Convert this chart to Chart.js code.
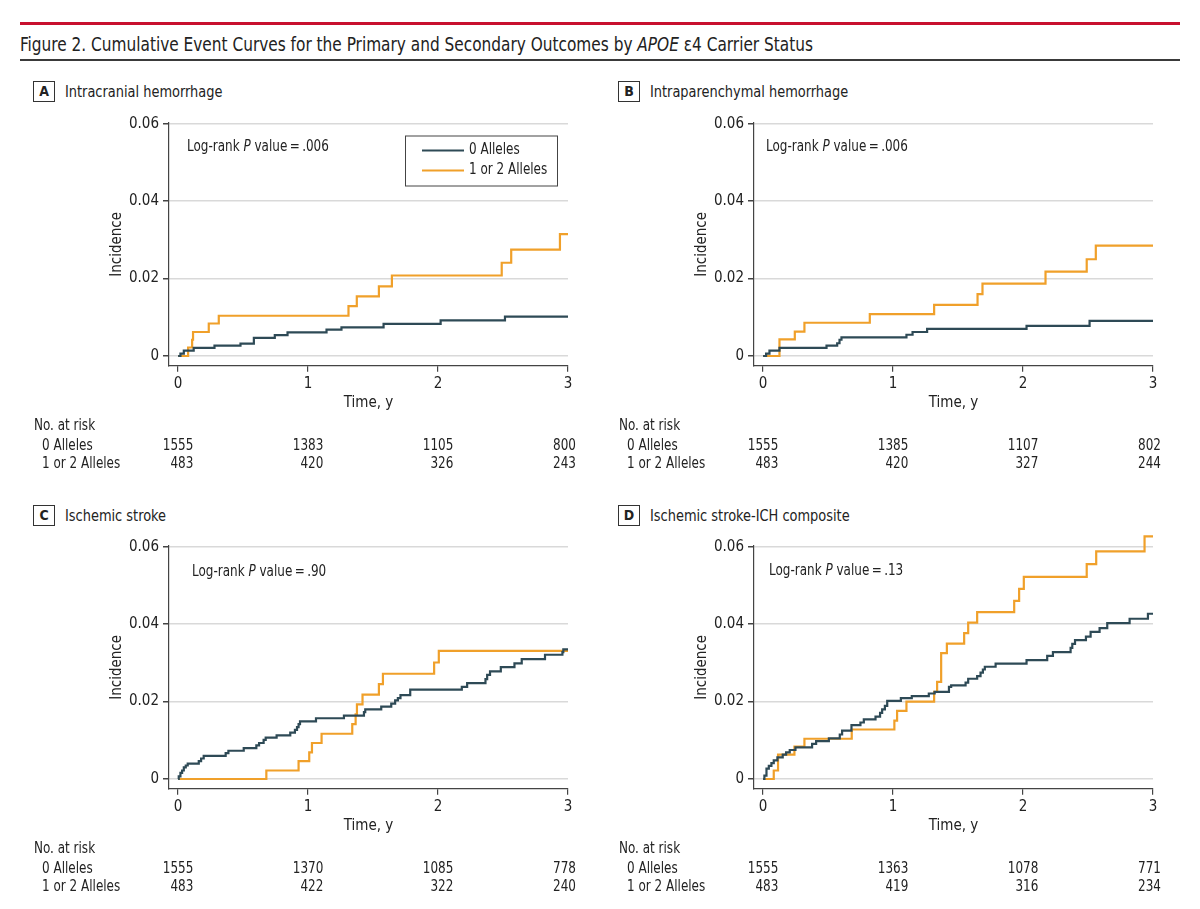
<!DOCTYPE html>
<html>
<head>
<meta charset="utf-8">
<script src="https://cdn.jsdelivr.net/npm/chart.js@4.4.1/dist/chart.umd.min.js"></script>
<style>
  body { margin: 0; background: #fff; }
  #page { position: relative; width: 1200px; height: 909px; overflow: hidden;
          font-family: 'Liberation Sans Narrow', 'DejaVu Sans Condensed', sans-serif; color: #222; }
  .redline { position: absolute; left: 20px; width: 1160px; top: 22px; height: 3px; background: #c8102e; }
  .blackline { position: absolute; left: 20px; width: 1160px; top: 59px; height: 2px; background: #3a3a3a; }
  .figtitle { position: absolute; left: 20px; top: 33px; font-size: 19.5px; line-height: 24px; white-space: nowrap;
              transform: scaleX(0.875); transform-origin: left center; }
  .plabel { position: absolute; width: 20px; height: 19px; border: 1px solid #333; font-weight: bold;
            font-size: 14px; line-height: 19px; text-align: center; }
  .ptitle { position: absolute; font-size: 16px; line-height: 20px; white-space: nowrap;
            transform: scaleX(0.9); transform-origin: left center; }
  canvas { position: absolute; }
</style>
</head>
<body>
<div id="page">
  <div class="redline"></div>
  <div class="figtitle">Figure 2. Cumulative Event Curves for the Primary and Secondary Outcomes by <i>APOE</i> ε4 Carrier Status</div>
  <div class="blackline"></div>
</div>
<script>
// axis ticks and series names
const timeTicks = [0, 1, 2, 3];
const incTicks = [0, 0.02, 0.04, 0.06];
const seriesNames = ['0 Alleles', '1 or 2 Alleles'];
const seriesColors = ['#2e4a56', '#f0a02a'];

// A: intracranial hemorrhage
const aTime0 = [0, 0.018, 0.044, 0.12, 0.28, 0.48, 0.583, 0.744, 0.842, 1.142, 1.257, 1.581, 2.02, 2.515, 3];
const aInc0 = [0, 0.0006, 0.0014, 0.0021, 0.0027, 0.0032, 0.0047, 0.0054, 0.0061, 0.0068, 0.0074, 0.0083, 0.0092, 0.0102, 0.0102];
const aTime1 = [0, 0.077, 0.108, 0.115, 0.236, 0.313, 1.311, 1.375, 1.545, 1.645, 2.49, 2.563, 2.938, 3];
const aInc1 = [0, 0.0022, 0.0042, 0.0062, 0.0084, 0.0104, 0.0129, 0.0154, 0.018, 0.0208, 0.0241, 0.0275, 0.0315, 0.0315];
const aRisk0 = [1555, 1383, 1105, 800];
const aRisk1 = [483, 420, 326, 243];

// B: intraparenchymal hemorrhage
const bTime0 = [0, 0.023, 0.049, 0.126, 0.488, 0.57, 0.588, 0.603, 1.103, 1.15, 1.262, 2.027, 2.512, 3];
const bInc0 = [0, 0.0006, 0.0014, 0.0021, 0.0027, 0.0033, 0.0042, 0.0048, 0.0055, 0.0062, 0.007, 0.0078, 0.0091, 0.0091];
const bTime1 = [0, 0.126, 0.244, 0.318, 0.821, 1.316, 1.65, 1.688, 2.173, 2.49, 2.56, 3];
const bInc1 = [0, 0.0043, 0.0063, 0.0086, 0.0108, 0.0132, 0.016, 0.0187, 0.0218, 0.025, 0.0285, 0.0285];
const bRisk0 = [1555, 1385, 1107, 802];
const bRisk1 = [483, 420, 327, 244];

// C: ischemic stroke
const cTime0 = [0, 0.005, 0.018, 0.031, 0.044, 0.059, 0.074, 0.159, 0.177, 0.197, 0.366, 0.387, 0.505, 0.602, 0.623,
  0.658, 0.674, 0.758, 0.863, 0.899, 0.915, 0.927, 0.938, 1.061, 1.276, 1.43, 1.44, 1.563, 1.64, 1.67, 1.691, 1.711,
  1.786, 2.183, 2.224, 2.365, 2.378, 2.4, 2.483, 2.588, 2.644, 2.823, 2.957, 2.964, 3];
const cInc0 = [0, 0.0007, 0.0016, 0.0022, 0.003, 0.0035, 0.004, 0.0046, 0.0053, 0.006, 0.0067, 0.0073, 0.008, 0.0087, 0.0093,
  0.0101, 0.0107, 0.0113, 0.012, 0.0127, 0.0134, 0.0142, 0.0149, 0.0157, 0.0164, 0.0173, 0.018, 0.0187, 0.0195, 0.0203, 0.0209, 0.0217,
  0.0231, 0.0238, 0.0248, 0.0258, 0.0269, 0.0278, 0.0289, 0.0299, 0.031, 0.0321, 0.0328, 0.0335, 0.0335];
const cTime1 = [0, 0.679, 0.927, 1.009, 1.03, 1.104, 1.34, 1.366, 1.376, 1.419, 1.545, 1.576, 1.97, 2.006, 3];
const cInc1 = [0, 0.0022, 0.0046, 0.0069, 0.0093, 0.0117, 0.0142, 0.0167, 0.0193, 0.0218, 0.0245, 0.0272, 0.0301, 0.0331, 0.0331];
const cRisk0 = [1555, 1370, 1085, 778];
const cRisk1 = [483, 422, 322, 240];

// D: ischemic stroke-ICH composite
const dTime0 = [0, 0.01, 0.026, 0.044, 0.064, 0.082, 0.11, 0.151, 0.177, 0.205, 0.249, 0.377, 0.408, 0.506, 0.59, 0.608,
  0.68, 0.749, 0.775, 0.865, 0.9, 0.916, 0.937, 0.955, 1.06, 1.144, 1.275, 1.32, 1.43, 1.447, 1.558, 1.578, 1.647, 1.673,
  1.691, 1.706, 1.789, 2.027, 2.186, 2.23, 2.366, 2.379, 2.4, 2.484, 2.52, 2.589, 2.648, 2.82, 2.961, 3];
const dInc0 = [0, 0.0009, 0.0027, 0.0034, 0.0041, 0.0048, 0.0056, 0.0063, 0.0069, 0.0075, 0.0082, 0.0091, 0.0098, 0.0105, 0.0115, 0.0125,
  0.0139, 0.0146, 0.0154, 0.0161, 0.0171, 0.018, 0.0189, 0.0202, 0.0209, 0.0214, 0.0221, 0.0225, 0.0238, 0.0242, 0.0249, 0.0259, 0.0266, 0.0275,
  0.0283, 0.029, 0.0298, 0.0307, 0.0318, 0.0328, 0.0339, 0.0349, 0.0359, 0.0368, 0.038, 0.039, 0.0403, 0.0414, 0.0427, 0.0427];
const dTime1 = [0, 0.082, 0.115, 0.241, 0.318, 0.682, 1.01, 1.031, 1.103, 1.316, 1.339, 1.37, 1.414, 1.547, 1.578, 1.647,
  1.932, 1.97, 2.006, 2.49, 2.563, 2.935, 3];
const dInc1 = [0, 0.0022, 0.0063, 0.0084, 0.0104, 0.0128, 0.0151, 0.0176, 0.02, 0.0225, 0.0251, 0.0325, 0.035, 0.0377, 0.0404, 0.0431,
  0.046, 0.0491, 0.0522, 0.0555, 0.0588, 0.0627, 0.0627];
const dRisk0 = [1555, 1363, 1078, 771];
const dRisk1 = [483, 419, 316, 234];

const FONT = "'Liberation Sans Narrow', 'DejaVu Sans Condensed', sans-serif";
const SX = 0.89; // squeeze canvas text a bit, the original face is narrow
Chart.defaults.font.family = FONT;
Chart.defaults.color = '#222';

const panels = [
  { id: 'A', title: 'Intracranial hemorrhage', x: 0, y: 110, hy: 81, p: '.006', pdx: 18, pdy: 24.5, legend: true,
    series: [[aTime0, aInc0], [aTime1, aInc1]], risk: [aRisk0, aRisk1] },
  { id: 'B', title: 'Intraparenchymal hemorrhage', x: 585, y: 110, hy: 81, p: '.006', pdx: 12, pdy: 24.5, legend: false,
    series: [[bTime0, bInc0], [bTime1, bInc1]], risk: [bRisk0, bRisk1] },
  { id: 'C', title: 'Ischemic stroke', x: 0, y: 533, hy: 505, p: '.90', pdx: 23, pdy: 26, legend: false,
    series: [[cTime0, cInc0], [cTime1, cInc1]], risk: [cRisk0, cRisk1] },
  { id: 'D', title: 'Ischemic stroke-ICH composite', x: 585, y: 533, hy: 505, p: '.13', pdx: 15, pdy: 25.5, legend: false,
    series: [[dTime0, dInc0], [dTime1, dInc1]], risk: [dRisk0, dRisk1] }
];

const page = document.getElementById('page');

// draws text squeezed horizontally, returns drawn width
function narrowText(ctx, str, x, y, align) {
  ctx.save();
  ctx.translate(x, y);
  ctx.scale(SX, 1);
  ctx.textAlign = align || 'left';
  ctx.fillText(str, 0, 0);
  const w = ctx.measureText(str).width * SX;
  ctx.restore();
  return w;
}

// log-rank note, legend box and numbers at risk
const kmExtras = {
  id: 'kmExtras',
  afterDraw(chart, args, opts) {
    const { ctx, chartArea: ca } = chart;
    const xs = chart.scales.x;
    ctx.save();
    ctx.fillStyle = '#222';
    ctx.textBaseline = 'middle';

    // Log-rank P value
    let tx = ca.left + opts.pdx;
    const ty = ca.top + opts.pdy;
    ctx.font = '15px ' + FONT;
    tx += narrowText(ctx, 'Log-rank ', tx, ty);
    ctx.font = 'italic 15px ' + FONT;
    tx += narrowText(ctx, 'P ', tx, ty);
    ctx.font = '15px ' + FONT;
    narrowText(ctx, 'value\u2009=\u2009' + opts.p, tx, ty);

    // legend
    if (opts.legend) {
      const lx = ca.left + 236, ly = ca.top + 12.5;
      ctx.strokeStyle = '#444';
      ctx.lineWidth = 1;
      ctx.strokeRect(lx + 0.5, ly + 0.5, 152, 50);
      chart.data.datasets.forEach((ds, i) => {
        const yy = ly + 15 + i * 20;
        ctx.strokeStyle = ds.borderColor;
        ctx.lineWidth = 2.2;
        ctx.beginPath();
        ctx.moveTo(lx + 17, yy);
        ctx.lineTo(lx + 59, yy);
        ctx.stroke();
        narrowText(ctx, ds.label, lx + 64, yy);
      });
    }

    // numbers at risk
    ctx.font = '15px ' + FONT;
    const b = ca.bottom;
    narrowText(ctx, 'No. at risk', opts.riskLeft, b + 60);
    seriesNames.forEach((n, i) => narrowText(ctx, n, opts.riskLeft + 8, b + 80 + i * 18.5));
    const half = ctx.measureText('1555').width * SX / 2;
    opts.risk.forEach((row, i) => {
      row.forEach((v, j) => {
        const px = xs.getPixelForValue(timeTicks[j]);
        const xr = j === row.length - 1 ? px + 8 : px + half;
        narrowText(ctx, String(v), xr, b + 80 + i * 18.5, 'right');
      });
    });
    ctx.restore();
  }
};

panels.forEach(p => {
  // panel header
  const lab = document.createElement('div');
  lab.className = 'plabel';
  lab.style.left = (p.x + 33) + 'px';
  lab.style.top = p.hy + 'px';
  lab.textContent = p.id;
  page.appendChild(lab);
  const tt = document.createElement('div');
  tt.className = 'ptitle';
  tt.style.left = (p.x + 65) + 'px';
  tt.style.top = (p.hy + 1) + 'px';
  tt.textContent = p.title;
  page.appendChild(tt);

  const cv = document.createElement('canvas');
  cv.width = 600;
  cv.height = 370;
  cv.style.left = p.x + 'px';
  cv.style.top = p.y + 'px';
  cv.style.width = '600px';
  cv.style.height = '370px';
  page.appendChild(cv);

  new Chart(cv.getContext('2d'), {
    type: 'line',
    data: {
      datasets: p.series.map((s, i) => ({
        label: seriesNames[i],
        data: s[0].map((t, k) => ({ x: t, y: s[1][k] })),
        borderColor: seriesColors[i],
        backgroundColor: seriesColors[i],
        borderWidth: 2.2,
        stepped: 'before',
        pointRadius: 0,
        fill: false,
        clip: false
      }))
    },
    options: {
      responsive: false,
      animation: false,
      layout: { padding: { left: 108, top: 11.5, right: 32, bottom: 68 } },
      plugins: {
        legend: { display: false },
        tooltip: { enabled: false },
        kmExtras: { pdx: p.pdx, pdy: p.pdy, p: p.p, legend: p.legend, risk: p.risk, riskLeft: 34 }
      },
      scales: {
        x: {
          type: 'linear',
          min: -0.07,
          max: 3,
          afterBuildTicks: s => { s.ticks = timeTicks.map(v => ({ value: v })); },
          afterFit: s => { s.height = 46.3; },
          ticks: { font: { size: 15 }, padding: 3, maxRotation: 0, color: '#222' },
          grid: { drawOnChartArea: false, tickLength: 6, tickColor: '#444', lineWidth: 1.2 },
          border: { color: '#444', width: 1.2 },
          title: { display: true, text: 'Time, y', font: { size: 15 }, padding: 0, color: '#222' }
        },
        y: {
          min: -0.0025,
          max: 0.0602,
          afterBuildTicks: s => { s.ticks = incTicks.map(v => ({ value: v })); },
          afterFit: s => { s.width = 61; },
          ticks: { font: { size: 15 }, padding: 4, color: '#222',
                   callback: v => v === 0 ? '0' : v.toFixed(2) },
          grid: { color: '#d9d9d9', lineWidth: 1.5, tickLength: 6, tickColor: '#444' },
          border: { color: '#444', width: 1.2 },
          title: { display: true, text: 'Incidence', font: { size: 15 }, padding: 0, color: '#222' }
        }
      }
    },
    plugins: [kmExtras]
  });
});
</script>
</body>
</html>
